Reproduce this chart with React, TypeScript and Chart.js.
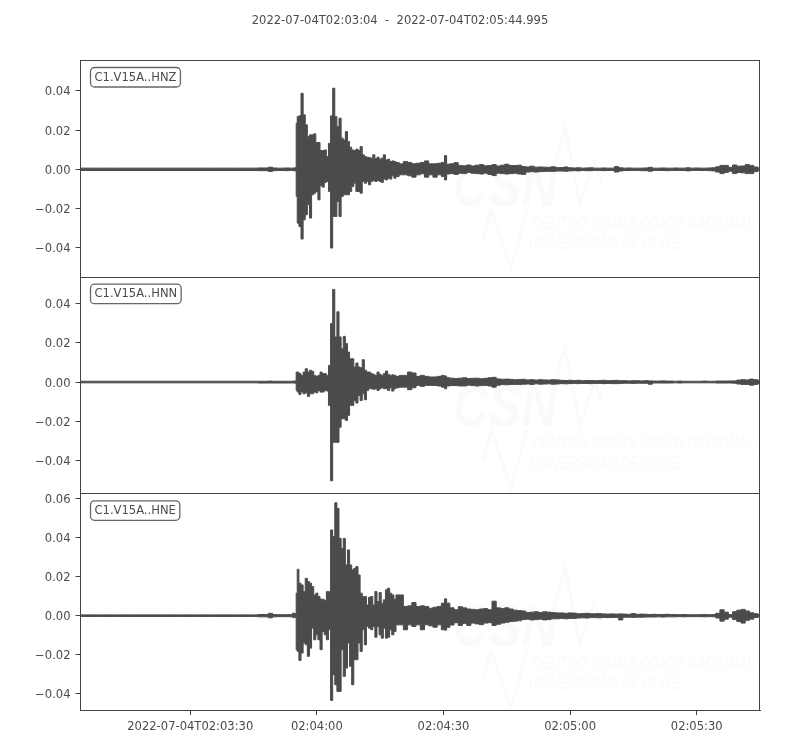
import React, { useEffect, useRef } from "react";
import { Chart, registerables } from "chart.js";

Chart.register(...registerables);

const titleText = "2022-07-04T02:03:04  -  2022-07-04T02:05:44.995";
const channels = ["C1.V15A..HNZ", "C1.V15A..HNN", "C1.V15A..HNE"];
const xTickSeconds = [26, 56, 86, 116, 146];
const xTickLabels = ["2022-07-04T02:03:30", "02:04:00", "02:04:30", "02:05:00", "02:05:30"];
const durationSeconds = 160.995;
const yTicksZ = [-0.04, -0.02, 0, 0.02, 0.04];
const yTicksN = [-0.04, -0.02, 0, 0.02, 0.04];
const yTicksE = [-0.04, -0.02, 0, 0.02, 0.04, 0.06];
const yRangeZ = [-0.0548, 0.0558];
const yRangeN = [-0.0567, 0.0537];
const yRangeE = [-0.0482, 0.0625];

// seconds after 02:03:04; the envelope values below are in units of 1e-4
const times = [
  0, 8, 16, 24, 32, 40, 44, 45, 46, 47, 48, 49, 50, 50.5, 51,
  51.2,
  51.5, 52, 52.5, 53, 53.5, 54, 54.5, 55, 55.5, 56, 56.5, 57, 57.5, 58, 58.5,
  59, 59.5, 60, 60.5, 61, 61.5, 62, 62.5, 63, 63.5, 64, 64.5, 65, 65.5, 66, 66.5,
  67, 67.5, 68, 68.5, 69, 69.5, 70, 70.5, 71, 71.5, 72, 72.5, 73, 73.5, 74, 74.5, 75,
  76, 77, 78, 79, 80, 81, 82, 83, 84, 85, 86,
  86.5,
  87, 88, 89, 90, 91, 92, 93, 94, 95, 96, 97, 98, 99, 100, 101,
  102, 103, 104, 105, 106, 107, 108, 109, 110, 111, 112, 113, 114, 115, 116,
  117, 118, 119, 120, 121, 122, 123, 124, 125, 126, 127, 128, 129, 130, 131,
  132, 133, 134, 135, 136, 137, 138, 139, 140, 141, 142, 143, 144, 145, 146,
  147, 148, 149, 150, 151, 152, 153, 154, 155, 156, 157, 158, 159, 160, 161,
];
const zHigh = [
  6, 6, 6, 6, 6, 6, 7, 11, 7, 6, 6, 7, 6, 7, 8,
  235,
  270, 273, 388, 278, 227, 167, 176, 176, 181, 137, 137, 96, 96, 99, 65,
  133, 273, 414, 269, 218, 261, 159, 150, 193, 142, 113, 99, 96, 103, 96, 116,
  74, 65, 62, 60, 57, 74, 54, 62, 52, 57, 74, 48, 52, 40, 43, 40, 35,
  28, 40, 35, 28, 31, 35, 43, 28, 28, 31, 35,
  70,
  26, 28, 34, 20, 18, 22, 17, 21, 24, 18, 19, 24, 17, 21, 26,
  20, 19, 21, 14, 12, 16, 11, 12, 11, 10, 13, 9, 9, 12, 8,
  7, 8, 6, 7, 8, 6, 6, 7, 6, 6, 14, 8, 6, 7, 6,
  6, 6, 7, 10, 6, 6, 7, 6, 6, 7, 6, 6, 8, 6, 7,
  6, 6, 7, 8, 13, 20, 20, 10, 22, 16, 17, 24, 20, 12, 6,
];
const zLow = [
  -6, -6, -6, -6, -6, -6, -7, -11, -7, -6, -6, -7, -6, -7, -8,
  -139,
  -275, -292, -356, -258, -232, -181, -249, -130, -122, -113, -156, -84, -91, -67, -62,
  -113, -402, -241, -241, -164, -241, -139, -130, -130, -130, -113, -88, -71, -113, -113, -122,
  -62, -71, -62, -79, -62, -57, -62, -57, -62, -67, -50, -54, -45, -50, -33, -45, -37,
  -28, -28, -33, -40, -28, -23, -40, -28, -40, -28, -37,
  -54,
  -24, -22, -26, -20, -22, -16, -20, -22, -24, -20, -26, -32, -20, -22, -24,
  -22, -20, -24, -26, -14, -12, -14, -12, -11, -10, -11, -9, -9, -10, -8,
  -7, -8, -6, -7, -7, -6, -6, -7, -6, -6, -14, -9, -6, -6, -6,
  -6, -7, -7, -10, -6, -6, -6, -7, -6, -6, -6, -6, -8, -6, -6,
  -6, -6, -7, -8, -14, -22, -16, -10, -22, -16, -18, -22, -22, -12, -6,
];
const nHigh = [
  4, 4, 4, 4, 4, 4, 4, 5, 4, 4, 4, 4, 4, 5, 6,
  51,
  51, 43, 34, 51, 68, 51, 60, 55, 34, 29, 34, 51, 43, 43, 34,
  85, 298, 472, 230, 358, 230, 170, 233, 196, 153, 119, 119, 77, 97, 77, 73,
  114, 60, 51, 51, 43, 39, 34, 51, 39, 34, 43, 56, 39, 34, 37, 34, 29,
  34, 34, 51, 46, 29, 34, 29, 26, 26, 29, 34,
  31,
  22, 20, 18, 20, 22, 18, 19, 20, 17, 19, 22, 24, 16, 14, 15,
  14, 12, 13, 14, 11, 12, 10, 12, 11, 10, 12, 11, 9, 8, 9,
  8, 9, 7, 8, 8, 7, 8, 9, 7, 8, 9, 7, 7, 6, 7,
  7, 6, 7, 6, 5, 5, 6, 5, 5, 4, 5, 4, 4, 4, 4,
  4, 5, 4, 4, 5, 5, 5, 6, 6, 10, 12, 11, 15, 12, 8,
];
const nLow = [
  -4, -4, -4, -4, -4, -4, -5, -5, -5, -5, -5, -5, -5, -5, -6,
  -43,
  -51, -63, -51, -60, -55, -73, -60, -60, -51, -55, -43, -51, -51, -43, -46,
  -119, -503, -307, -307, -307, -230, -187, -187, -196, -170, -119, -119, -94, -107, -68, -94,
  -60, -90, -43, -34, -34, -37, -34, -43, -34, -29, -34, -34, -43, -29, -46, -34, -29,
  -26, -26, -39, -29, -17, -22, -17, -17, -17, -20, -26,
  -34,
  -20, -18, -18, -20, -20, -16, -18, -20, -18, -17, -20, -26, -16, -13, -14,
  -12, -12, -13, -11, -10, -12, -9, -11, -10, -9, -11, -10, -8, -9, -8,
  -7, -8, -7, -7, -8, -7, -7, -8, -7, -8, -8, -7, -6, -6, -7,
  -6, -6, -6, -11, -5, -5, -5, -5, -5, -4, -5, -4, -4, -4, -4,
  -4, -4, -4, -4, -5, -5, -5, -5, -6, -10, -12, -12, -16, -12, -8,
];
const eHigh = [
  4, 4, 4, 4, 4, 4, 6, 12, 6, 5, 5, 5, 6, 13, 10,
  115,
  237, 166, 157, 123, 191, 174, 166, 149, 106, 115, 98, 84, 84, 77, 123,
  123, 438, 404, 577, 548, 395, 344, 395, 259, 336, 259, 234, 242, 251, 208, 115,
  98, 98, 55, 94, 98, 55, 123, 72, 118, 64, 81, 132, 140, 115, 106, 84, 106,
  106, 47, 50, 67, 47, 50, 47, 38, 43, 47, 64,
  86,
  64, 40, 30, 46, 40, 34, 32, 30, 34, 36, 30, 74, 40, 36, 40,
  34, 28, 26, 24, 16, 18, 20, 16, 20, 18, 16, 14, 14, 12, 14,
  13, 10, 11, 12, 10, 10, 11, 9, 8, 9, 8, 9, 8, 7, 11,
  7, 8, 7, 6, 7, 6, 6, 7, 6, 6, 5, 6, 5, 5, 5,
  5, 6, 5, 6, 12, 30, 18, 6, 20, 28, 32, 24, 15, 10, 6,
];
const eLow = [
  -4, -4, -4, -4, -4, -4, -6, -11, -6, -5, -5, -5, -6, -10, -10,
  -174,
  -183, -229, -191, -140, -149, -208, -166, -64, -123, -98, -123, -174, -81, -98, -123,
  -72, -433, -302, -353, -387, -387, -174, -310, -268, -140, -259, -353, -225, -225, -140, -183,
  -72, -149, -55, -64, -72, -55, -110, -55, -98, -115, -64, -115, -110, -72, -98, -81, -47,
  -47, -72, -47, -55, -47, -72, -47, -52, -59, -47, -72,
  -74,
  -60, -48, -36, -50, -40, -50, -38, -42, -46, -38, -36, -50, -44, -38, -34,
  -30, -28, -26, -20, -18, -22, -20, -18, -22, -20, -16, -16, -14, -16, -14,
  -14, -12, -11, -12, -10, -10, -11, -9, -10, -9, -9, -22, -8, -8, -9,
  -8, -8, -7, -7, -7, -6, -7, -6, -6, -6, -5, -6, -5, -5, -5,
  -5, -6, -5, -6, -12, -28, -18, -8, -20, -30, -38, -24, -18, -10, -6,
];

const INK = "#4b4b4b";
const FRAME = "#444444";
const FONT = '"DejaVu Sans", sans-serif';
const SIZE = 11.55;
const VALUE_UNIT = 1e-4;

function toPoints(values: number[]) {
  return times.map((t, i) => ({ x: t, y: values[i] * VALUE_UNIT }));
}

function envelope(high: number[], low: number[], axis: string) {
  const base = {
    yAxisID: axis,
    xAxisID: "x",
    borderColor: INK,
    backgroundColor: INK,
    borderWidth: 1,
    pointRadius: 0,
    stepped: "middle",
  };
  return [
    { ...base, data: toPoints(high), fill: "+1" },
    { ...base, data: toPoints(low), fill: false },
  ];
}

function yAxis(range: number[], ticks: number[]) {
  return {
    type: "linear",
    position: "left",
    stack: "traces",
    stackWeight: 1,
    min: range[0],
    max: range[1],
    afterBuildTicks: (s: any) => {
      s.ticks = ticks.map((value) => ({ value }));
    },
    afterFit: (s: any) => {
      s.width = 80.5;
    },
    border: { display: true, color: FRAME, width: 1 },
    grid: { drawOnChartArea: false, drawTicks: true, tickLength: 5, tickColor: FRAME, tickWidth: 1 },
    ticks: {
      color: INK,
      font: { family: FONT, size: SIZE, lineHeight: 0.26 },
      padding: 5,
      autoSkip: false,
      callback: (v: number) => {
        const n = Number(v);
        // the empty first line nudges the label down onto its tick mark
        return ["", (n < 0 ? "\u2212" : "") + Math.abs(n).toFixed(2)];
      },
    },
  };
}

const watermark = {
  id: "watermark",
  beforeDatasetsDraw(chart: any) {
    const { ctx } = chart;
    const right = chart.chartArea.right;
    ["y1", "y2", "y3"].forEach((id, i) => {
      const top = chart.scales[id].top;
      const o = top + i * 3.4;
      ctx.save();
      ctx.beginPath();
      ctx.rect(chart.chartArea.left, top, right - chart.chartArea.left, chart.scales[id].height);
      ctx.clip();
      ctx.fillStyle = "#fafafa";
      ctx.strokeStyle = "#fafafa";
      ctx.font = 'italic bold 60px "Liberation Sans"';
      ctx.textBaseline = "alphabetic";
      ctx.fillText("CSN", 453, o + 146, 104);
      ctx.font = 'italic 18px "Liberation Sans"';
      ctx.fillText("CENTRO SISMOL\u00d3GICO NACIONAL", 532, o + 169, 222);
      ctx.fillText("UNIVERSIDAD DE CHILE", 529, o + 189, 152);
      ctx.lineWidth = 3;
      ctx.lineJoin = "miter";
      ctx.beginPath();
      ctx.moveTo(553, o + 110);
      ctx.lineTo(565, o + 67);
      ctx.lineTo(580, o + 145);
      ctx.lineTo(594, o + 102);
      ctx.lineTo(602, o + 122);
      ctx.stroke();
      ctx.beginPath();
      ctx.moveTo(483, o + 180);
      ctx.lineTo(491, o + 150);
      ctx.lineTo(511, o + 208);
      ctx.lineTo(527, o + 150);
      ctx.stroke();
      ctx.restore();
    });
  },
};

const frames = {
  id: "frames",
  afterDraw(chart: any) {
    const { ctx, chartArea } = chart;
    ctx.save();
    ctx.strokeStyle = FRAME;
    ctx.lineWidth = 1;
    const l = Math.floor(chartArea.left) + 0.5;
    const r = Math.round(chartArea.right) - 0.5;
    ["y1", "y2", "y3"].forEach((id, i) => {
      const s = chart.scales[id];
      const t = Math.round(s.top) + 0.5;
      const b = Math.round(s.bottom) + 0.5;
      ctx.strokeRect(l, t, r - l, b - t);
      const label = channels[i];
      ctx.font = `${SIZE}px ${FONT}`;
      const w = ctx.measureText(label).width;
      const bx = chartArea.left + 10;
      const by = s.top + 7.5;
      ctx.beginPath();
      ctx.roundRect(bx, by, w + 8, 19.5, 4);
      ctx.fillStyle = "rgba(255,255,255,0.85)";
      ctx.fill();
      ctx.strokeStyle = "#666666";
      ctx.lineWidth = 1.3;
      ctx.stroke();
      ctx.lineWidth = 1;
      ctx.strokeStyle = FRAME;
      ctx.fillStyle = INK;
      ctx.textBaseline = "middle";
      ctx.textAlign = "left";
      ctx.fillText(label, bx + 4, by + 10);
    });
    ctx.restore();
  },
};

export default function App() {
  const ref = useRef<HTMLCanvasElement>(null);
  useEffect(() => {
    const chart = new Chart(ref.current as HTMLCanvasElement, {
      type: "line",
      data: {
        datasets: [
          ...envelope(zHigh, zLow, "y1"),
          ...envelope(nHigh, nLow, "y2"),
          ...envelope(eHigh, eLow, "y3"),
        ],
      },
      plugins: [watermark, frames],
      options: {
        responsive: false,
        animation: false,
        devicePixelRatio: 1,
        parsing: false,
        layout: { padding: 0 },
        plugins: {
          legend: { display: false },
          tooltip: { enabled: false },
          title: {
            display: true,
            text: titleText,
            color: INK,
            font: { family: FONT, size: SIZE, weight: "normal" },
            padding: { top: 14.5, bottom: 31.64 },
          },
        },
        scales: {
          x: {
            type: "linear",
            position: "bottom",
            min: 0,
            max: durationSeconds,
            afterBuildTicks: (s: any) => {
              s.ticks = xTickSeconds.map((value) => ({ value }));
            },
            afterFit: (s: any) => {
              s.height = 40;
            },
            border: { display: true, color: FRAME, width: 1 },
            grid: { drawOnChartArea: false, drawTicks: true, tickLength: 5, tickColor: FRAME, tickWidth: 1 },
            ticks: {
              color: INK,
              font: { family: FONT, size: SIZE },
              padding: 5,
              autoSkip: false,
              maxRotation: 0,
              minRotation: 0,
              callback: (v: number) => xTickLabels[xTickSeconds.indexOf(Number(v))],
            },
          },
          y3: yAxis(yRangeE, yTicksE),
          y2: yAxis(yRangeN, yTicksN),
          y1: yAxis(yRangeZ, yTicksZ),
          margin: {
            type: "linear",
            position: "right",
            afterFit: (s: any) => {
              s.width = 40;
            },
            border: { display: false },
            grid: { display: false },
            ticks: { display: false },
          },
        },
      } as any,
    });
    return () => chart.destroy();
  }, []);
  return (
    <div style={{ position: "fixed", left: 0, top: 0, width: 800, height: 750, background: "#fff" }}>
      <canvas ref={ref} width={800} height={750} style={{ display: "block" }} />
    </div>
  );
}
